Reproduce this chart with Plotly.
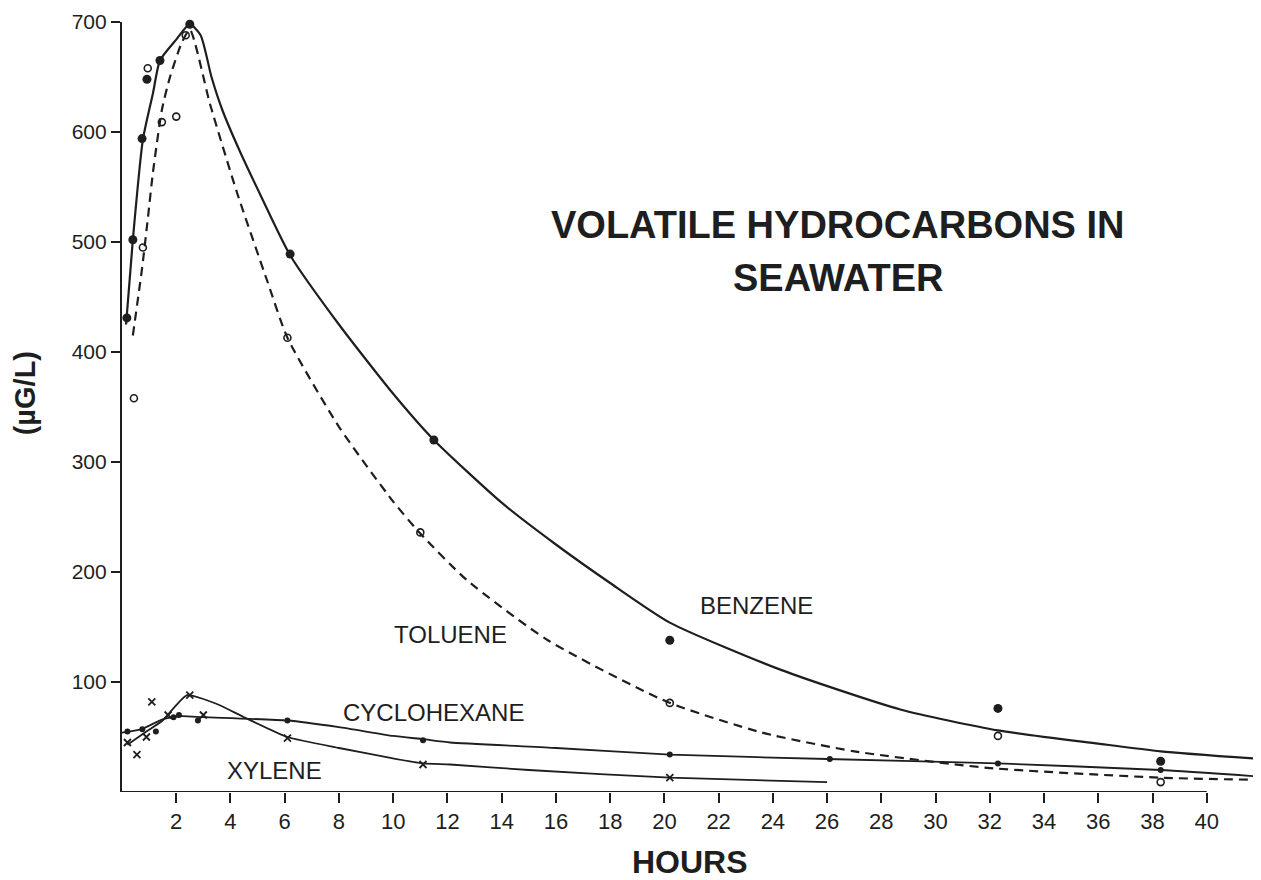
import plotly.graph_objects as go

# ---- data ----
benzene_x = [0.18, 0.40, 0.74, 0.92, 1.40, 2.50, 6.20, 11.5, 20.2, 32.3, 38.3]
benzene_y = [431, 502, 594, 648, 665, 698, 489, 320, 138, 76, 28]
benzene_fit_x = [0.15, 0.40, 0.77, 1.14, 1.40, 2.00, 2.50, 2.90, 3.30, 3.70, 4.30, 5.10, 6.20, 8.0, 10.0, 11.5, 14.0, 16.0, 18.0, 20.2, 24.3, 28.7, 32.3, 36.0, 38.3, 42.0]
benzene_fit_y = [425, 502, 593, 635, 665, 684, 698, 688, 650, 620, 585, 543, 488, 425, 362, 320, 263, 225, 190, 154, 111, 75, 56, 44, 37, 30]

toluene_x = [0.44, 0.77, 0.95, 1.47, 2.00, 2.35, 6.10, 11.0, 20.2, 32.3, 38.3]
toluene_y = [358, 495, 658, 609, 614, 688, 413, 236, 81, 51, 9]
toluene_fit_x = [0.40, 0.75, 0.96, 1.14, 1.47, 1.77, 2.20, 2.50, 3.25, 4.24, 5.35, 6.10, 8.0, 10.0, 11.0, 12.7, 15.7, 20.1, 23.6, 27.0, 31.9, 38.3, 42.0]
toluene_fit_y = [415, 478, 523, 563, 620, 650, 681, 693, 625, 545, 465, 413, 332, 264, 235, 193, 138, 82, 54, 37, 22, 13, 11]

cyclo_x = [0.20, 0.75, 1.25, 1.90, 2.10, 2.80, 6.10, 11.1, 20.2, 26.1, 32.3, 38.3, 41.9]
cyclo_y = [55, 57, 55, 68, 70, 65, 65, 47, 34, 30, 26, 20, 14]
cyclo_fit_x = [0.0, 0.7, 1.5, 2.2, 3.0, 6.1, 8.0, 10.0, 11.1, 12.1, 16.0, 20.2, 26.0, 32.3, 38.3, 42.0]
cyclo_fit_y = [54, 57, 66, 69, 68, 65, 59, 51, 48, 45, 40, 34, 30, 26, 20, 14]

xylene_x = [0.20, 0.55, 0.90, 1.10, 1.70, 2.50, 3.00, 6.10, 11.1, 20.2]
xylene_y = [45, 34, 50, 82, 70, 88, 70, 49, 25, 13]
xylene_fit_x = [0.2, 0.9, 1.5, 2.4, 3.5, 4.5, 6.1, 8.0, 9.9, 11.1, 12.1, 15.0, 20.2, 26.0]
xylene_fit_y = [43, 55, 65, 88, 80, 68, 50, 40, 31, 26, 25, 20, 13, 9]

x_ticks = list(range(2, 41, 2))
y_ticks = [100, 200, 300, 400, 500, 600, 700]

INK = "#1e1e1e"
FONT = "Liberation Sans, Arial, Helvetica, sans-serif"

fig = go.Figure()

# fitted curves
fig.add_trace(go.Scatter(x=benzene_fit_x, y=benzene_fit_y, mode="lines",
                         line=dict(color=INK, width=2.2, shape="spline", smoothing=0.6),
                         hoverinfo="skip", cliponaxis=False))
fig.add_trace(go.Scatter(x=toluene_fit_x, y=toluene_fit_y, mode="lines",
                         line=dict(color=INK, width=2.2, dash="9px,6px", shape="spline", smoothing=0.6),
                         hoverinfo="skip", cliponaxis=False))
fig.add_trace(go.Scatter(x=cyclo_fit_x, y=cyclo_fit_y, mode="lines",
                         line=dict(color=INK, width=1.8, shape="spline", smoothing=0.5),
                         hoverinfo="skip", cliponaxis=False))
fig.add_trace(go.Scatter(x=xylene_fit_x, y=xylene_fit_y, mode="lines",
                         line=dict(color=INK, width=1.8, shape="spline", smoothing=0.5),
                         hoverinfo="skip", cliponaxis=False))

# data points
fig.add_trace(go.Scatter(x=benzene_x, y=benzene_y, mode="markers", name="Benzene",
                         marker=dict(symbol="circle", size=9, color=INK), cliponaxis=False))
fig.add_trace(go.Scatter(x=toluene_x, y=toluene_y, mode="markers", name="Toluene",
                         marker=dict(symbol="circle-open", size=7, color=INK, line=dict(width=1.6)),
                         cliponaxis=False))
fig.add_trace(go.Scatter(x=cyclo_x, y=cyclo_y, mode="markers", name="Cyclohexane",
                         marker=dict(symbol="circle", size=6, color=INK), cliponaxis=False))
fig.add_trace(go.Scatter(x=xylene_x, y=xylene_y, mode="markers", name="Xylene",
                         marker=dict(symbol="x-thin", size=7, color=INK, line=dict(width=1.8, color=INK)),
                         cliponaxis=False))

# x-axis baseline (only up to 40)
fig.add_shape(type="line", xref="x", yref="y", x0=0, x1=40, y0=0, y1=0,
              line=dict(color=INK, width=2.2))

ann_font = dict(family=FONT, color=INK)
annotations = [
    dict(text="<b>VOLATILE HYDROCARBONS IN</b>", x=0.6286, y=0.736, xref="paper", yref="paper",
         showarrow=False, font=dict(size=38, **ann_font), xanchor="center", yanchor="middle"),
    dict(text="<b>SEAWATER</b>", x=0.6286, y=0.6675, xref="paper", yref="paper",
         showarrow=False, font=dict(size=38, **ann_font), xanchor="center", yanchor="middle"),
    dict(text="<b>HOURS</b>", x=0.4986, y=-0.091, xref="paper", yref="paper",
         showarrow=False, font=dict(size=32, **ann_font), xanchor="center", yanchor="middle"),
    dict(text="<b>(µG/L)</b>", x=-0.085, y=0.518, xref="paper", yref="paper", textangle=-90,
         showarrow=False, font=dict(size=29, **ann_font), xanchor="center", yanchor="middle"),
    dict(text="BENZENE", x=23.4, y=170, xref="x", yref="y", showarrow=False,
         font=dict(size=24, **ann_font)),
    dict(text="TOLUENE", x=12.13, y=143, xref="x", yref="y", showarrow=False,
         font=dict(size=24, **ann_font)),
    dict(text="CYCLOHEXANE", x=11.47, y=72, xref="x", yref="y", showarrow=False,
         font=dict(size=24, **ann_font)),
    dict(text="XYLENE", x=5.64, y=20, xref="x", yref="y", showarrow=False,
         font=dict(size=24, **ann_font)),
]

fig.update_layout(
    width=1253, height=872,
    margin=dict(l=114, r=0, t=14, b=88),
    paper_bgcolor="white", plot_bgcolor="white",
    showlegend=False,
    annotations=annotations,
    font=dict(family=FONT, color=INK),
    xaxis=dict(range=[0, 42], tickvals=x_ticks, ticktext=[str(v) for v in x_ticks],
               showgrid=False, zeroline=False, showline=False,
               ticks="outside", ticklen=10, tickwidth=2.2, tickcolor=INK,
               tickfont=dict(size=22, family=FONT, color=INK)),
    yaxis=dict(range=[0, 700], tickvals=y_ticks, ticktext=[str(v) for v in y_ticks],
               showgrid=False, zeroline=False, showline=True, linecolor=INK, linewidth=2.2,
               ticks="outside", ticklen=9, tickwidth=2.2, tickcolor=INK,
               tickfont=dict(size=21, family=FONT, color=INK)),
)

fig.write_html("out.html")
